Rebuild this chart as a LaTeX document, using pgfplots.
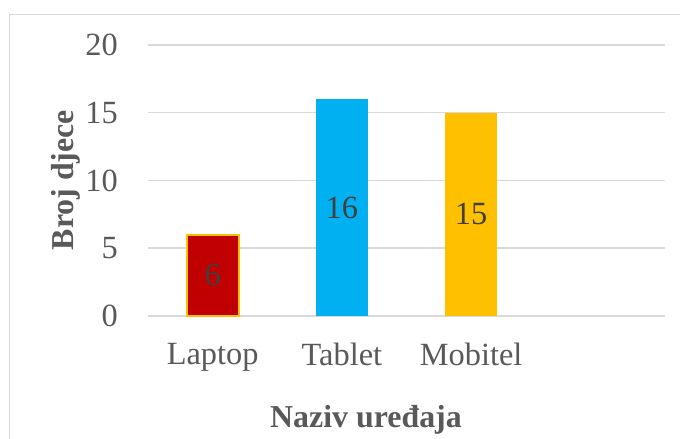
\documentclass[border=0pt]{standalone}
\usepackage{pgfplots}
\pgfplotsset{compat=1.18}
\usepackage{fontspec}
\setmainfont{Liberation Serif}
\definecolor{gridc}{HTML}{D9D9D9}
\definecolor{tickc}{HTML}{595959}
\definecolor{valc}{HTML}{404040}
\definecolor{redb}{HTML}{C00000}
\definecolor{blueb}{HTML}{00B0F0}
\definecolor{goldb}{HTML}{FFC000}
\begin{document}
\begin{tikzpicture}[x=1bp,y=1bp]
\path[use as bounding box] (0,0) rectangle (680,439);
\draw[gridc, line width=1.2bp] (9.5,0) -- (9.5,424.5) -- (680,424.5);
\begin{axis}[
  at={(148bp,123bp)}, anchor=south west,
  scale only axis, width=517bp, height=271bp,
  xmin=-0.5, xmax=3.5, ymin=0, ymax=20,
  axis line style={draw=none},
  ymajorgrids, grid style={gridc, line width=1.5bp},
  ytick={0,5,10,15,20},
  xtick={0,1,2}, xticklabels={Laptop,Tablet,Mobitel},
  major tick length=0pt,
  /pgf/number format/assume math mode=true,
  yticklabel style={font=\fontsize{32.5}{32.5}\selectfont, text=tickc, anchor=east, inner sep=0pt, xshift=-30bp},
  xticklabel style={font=\fontsize{32.5}{32.5}\selectfont, text=tickc, anchor=north, inner sep=0pt, yshift=-27bp},
  clip=false,
]
\addplot[ybar, bar width=52bp, bar shift=0pt, fill=redb, draw=goldb, line width=2bp] coordinates {(0,6)};
\addplot[ybar, bar width=52bp, bar shift=0pt, fill=blueb, draw=none] coordinates {(1,16)};
\addplot[ybar, bar width=52bp, bar shift=0pt, fill=goldb, draw=none] coordinates {(2,15)};
\addplot[draw=none, mark=none, point meta=explicit symbolic,
  nodes near coords,
  every node near coord/.append style={anchor=center, font=\fontsize{32.5}{32.5}\selectfont, text=valc, inner sep=0pt}]
  coordinates {(0,3) [6] (1,8) [16] (2,7.5) [15]};
\end{axis}
\node[font=\bfseries\fontsize{32}{32}\selectfont, text=tickc, anchor=base, inner sep=0pt] at (366,11) {Naziv uređaja};
\node[font=\bfseries\fontsize{32}{32}\selectfont, text=tickc, anchor=base, rotate=90, inner sep=0pt] at (73,259) {Broj djece};
\end{tikzpicture}
\end{document}
